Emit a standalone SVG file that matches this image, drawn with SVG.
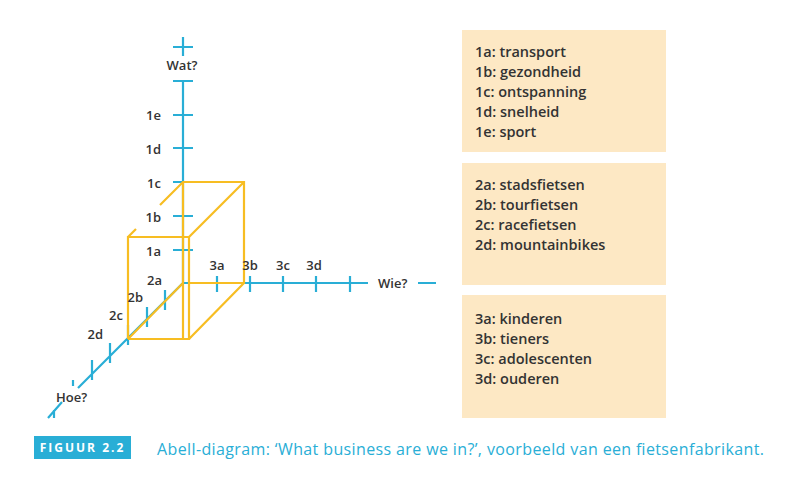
<svg xmlns="http://www.w3.org/2000/svg" width="794" height="480" viewBox="0 0 794 480">
<style>
.ax{stroke:#29aed6;stroke-width:2.2;fill:none}
.cb{stroke:#f7bd22;stroke-width:2.2;fill:none}
.lb{font-family:"Open Sans",sans-serif;font-size:13px;font-weight:600;fill:#333}
.bx{fill:#fde8c4}
.bt{font-family:"Open Sans",sans-serif;font-size:14.5px;font-weight:600;fill:#333}
</style>
<rect width="794" height="480" fill="#fff"/>
<g id="connectors">
<path class="ax" d="M183 37V56M173 47H193M183 80V283H368M173 81H193M173 115H193M173 148H193M173 182H193M173 216H193M173 250H193M217 276V292M250 276V292M283 276V292M316 276V292M350 276V292M418 283H436M183 283L78 388M165 290V310M147 307V327M128 325V345M110 343V363M92 360V380M73 380V386M62 402L48 418M54 410V418"/>
<path class="cb" d="M128 339H189V237H128V300M128 283V339M128 237L136 229M160 205L183 182H244V283H189M183 182V339M189 237L244 182M189 339L244 283M128 339L183 283"/>
</g>
<g id="axis-labels">
<text class="lb" x="182" y="70" text-anchor="middle">Wat?</text>
<text class="lb" x="161" y="120" text-anchor="end">1e</text>
<text class="lb" x="161" y="154" text-anchor="end">1d</text>
<text class="lb" x="161" y="188" text-anchor="end">1c</text>
<text class="lb" x="161" y="222" text-anchor="end">1b</text>
<text class="lb" x="161" y="256" text-anchor="end">1a</text>
<text class="lb" x="217" y="270" text-anchor="middle">3a</text>
<text class="lb" x="250" y="270" text-anchor="middle">3b</text>
<text class="lb" x="283" y="270" text-anchor="middle">3c</text>
<text class="lb" x="314" y="270" text-anchor="middle">3d</text>
<text class="lb" x="378" y="288">Wie?</text>
<text class="lb" x="162" y="285" text-anchor="end">2a</text>
<text class="lb" x="143" y="302" text-anchor="end">2b</text>
<text class="lb" x="123" y="320" text-anchor="end">2c</text>
<text class="lb" x="103" y="339" text-anchor="end">2d</text>
<text class="lb" x="56" y="402">Hoe?</text>
</g>
<g id="box1"><rect class="bx" x="462" y="30" width="204" height="122"/>
<text class="bt" x="475" y="57">1a: transport</text><text class="bt" x="475" y="77">1b: gezondheid</text><text class="bt" x="475" y="97">1c: ontspanning</text><text class="bt" x="475" y="117">1d: snelheid</text><text class="bt" x="475" y="137">1e: sport</text></g>
<g id="box2"><rect class="bx" x="462" y="163" width="204" height="122"/>
<text class="bt" x="475" y="190">2a: stadsfietsen</text><text class="bt" x="475" y="210">2b: tourfietsen</text><text class="bt" x="475" y="230">2c: racefietsen</text><text class="bt" x="475" y="250">2d: mountainbikes</text></g>
<g id="box3"><rect class="bx" x="462" y="295" width="204" height="123"/>
<text class="bt" x="475" y="324">3a: kinderen</text><text class="bt" x="475" y="344">3b: tieners</text><text class="bt" x="475" y="364">3c: adolescenten</text><text class="bt" x="475" y="384">3d: ouderen</text></g>
<g id="caption">
<rect x="34" y="436" width="97" height="23" fill="#29aed6"/>
<text x="82.5" y="452" text-anchor="middle" font-family="Open Sans,sans-serif" font-size="12" font-weight="700" fill="#fff" letter-spacing="2">FIGUUR 2.2</text>
<text x="157" y="455" font-family="Open Sans,sans-serif" font-size="16" fill="#29aed6" textLength="607">Abell-diagram: ‘What business are we in?’, voorbeeld van een fietsenfabrikant.</text>
</g>
</svg>
